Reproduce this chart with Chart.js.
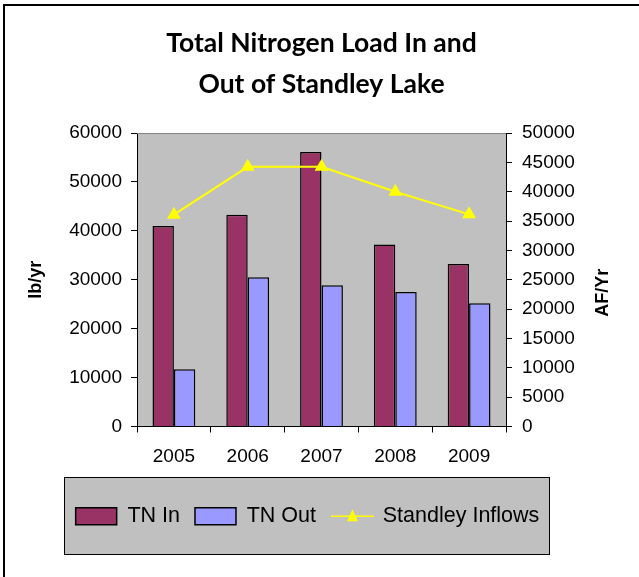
<!DOCTYPE html>
<html>
<head>
<meta charset="utf-8">
<script src="https://cdn.jsdelivr.net/npm/chart.js@4.4.1/dist/chart.umd.min.js"></script>
<style>
  html, body { margin: 0; padding: 0; background: #fff; }
  #wrap { width: 639px; height: 577px; position: relative; }
</style>
</head>
<body>
<div id="wrap"><canvas id="nitroChart" width="639" height="577"></canvas></div>
<script>
const years = ['2005', '2006', '2007', '2008', '2009'];
const tnIn = [41000, 43300, 56100, 37200, 33200];
const tnOut = [11700, 30500, 28900, 27500, 25200];
const inflows = [36100, 44250, 44250, 40000, 36150];

const leftTicks = [0, 10000, 20000, 30000, 40000, 50000, 60000];
const rightTicks = [0, 5000, 10000, 15000, 20000, 25000, 30000, 35000, 40000, 45000, 50000];

const axisFont = { family: 'Liberation Sans, Arial, sans-serif', size: 19 };

// frame, gray plot area, legend box, custom swatch and right title
const decorations = {
  id: 'decorations',
  beforeDraw: (chart) => {
    const { ctx, chartArea } = chart;
    ctx.save();
    ctx.fillStyle = '#C0C0C0';
    ctx.fillRect(chartArea.left, chartArea.top, chartArea.right - chartArea.left, chartArea.bottom - chartArea.top);

    const boxes = chart.legend.legendHitBoxes;
    if (boxes && boxes.length) {
      const first = boxes[0];
      const last = boxes[boxes.length - 1];
      const cy = first.top + first.height / 2;
      const x0 = Math.round(first.left - 12) + 0.5;
      const x1 = Math.round(last.left + last.width + 10) + 0.5;
      const y0 = Math.round(cy - 39) + 0.5;
      const y1 = Math.round(cy + 38) + 0.5;
      ctx.fillStyle = '#C0C0C0';
      ctx.fillRect(x0, y0, x1 - x0, y1 - y0);
      ctx.strokeStyle = '#000';
      ctx.lineWidth = 1;
      ctx.strokeRect(x0, y0, x1 - x0, y1 - y0);
    }

    ctx.strokeStyle = '#000';
    ctx.lineWidth = 2;
    ctx.beginPath();
    ctx.moveTo(4, 577);
    ctx.lineTo(4, 5);
    ctx.lineTo(639, 5);
    ctx.stroke();
    ctx.restore();
  },
  afterDraw: (chart) => {
    const { ctx, chartArea } = chart;
    ctx.save();
    ctx.strokeStyle = '#808080';
    ctx.lineWidth = 1;
    ctx.beginPath();
    ctx.moveTo(chartArea.left, chartArea.top + 0.5);
    ctx.lineTo(chartArea.right, chartArea.top + 0.5);
    ctx.stroke();

    const boxes = chart.legend.legendHitBoxes;
    const hb = boxes && boxes[2];
    if (hb) {
      const cy = hb.top + hb.height / 2;
      ctx.strokeStyle = '#FFFF00';
      ctx.lineWidth = 1.5;
      ctx.beginPath();
      ctx.moveTo(hb.left, cy);
      ctx.lineTo(hb.left + 43, cy);
      ctx.stroke();
      ctx.fillStyle = '#FFFF00';
      ctx.beginPath();
      ctx.moveTo(hb.left + 21.5, cy - 7);
      ctx.lineTo(hb.left + 27, cy + 5);
      ctx.lineTo(hb.left + 16, cy + 5);
      ctx.closePath();
      ctx.fill();
    }

    ctx.fillStyle = '#000';
    ctx.font = 'bold 18px Liberation Sans, Arial, sans-serif';
    ctx.textAlign = 'center';
    ctx.textBaseline = 'middle';
    ctx.translate(603, (chartArea.top + chartArea.bottom) / 2 + 13);
    ctx.rotate(-Math.PI / 2);
    ctx.fillText('AF/Yr', 0, 0);
    ctx.restore();
  }
};

new Chart(document.getElementById('nitroChart'), {
  data: {
    labels: years,
    datasets: [
      {
        type: 'line',
        label: 'Standley Inflows',
        data: inflows,
        yAxisID: 'y1',
        borderColor: '#FFFF00',
        backgroundColor: '#FFFF00',
        borderWidth: 2,
        pointStyle: 'triangle',
        pointRadius: 6,
        pointBackgroundColor: '#FFFF00',
        pointBorderColor: '#FFFF00',
        tension: 0,
        order: 0
      },
      {
        type: 'bar',
        label: 'TN In',
        data: tnIn,
        yAxisID: 'y',
        backgroundColor: '#993366',
        borderColor: '#000',
        borderWidth: 1.5,
        order: 1
      },
      {
        type: 'bar',
        label: 'TN Out',
        data: tnOut,
        yAxisID: 'y',
        backgroundColor: '#9999FF',
        borderColor: '#000',
        borderWidth: 1.5,
        order: 1
      }
    ]
  },
  options: {
    responsive: false,
    animation: false,
    devicePixelRatio: 1,
    layout: { padding: { left: 0, right: 24, top: 0, bottom: 40 } },
    datasets: { bar: { categoryPercentage: 0.58, barPercentage: 1 } },
    scales: {
      x: {
        type: 'category',
        offset: true,
        afterFit: (axis) => { axis.height = 64; },
        grid: { offset: true, drawOnChartArea: false, tickLength: 6, color: '#000' },
        border: { color: '#000' },
        ticks: { font: axisFont, color: '#000', padding: 13 }
      },
      y: {
        position: 'left',
        min: 0,
        max: 60000,
        afterFit: (axis) => { axis.width = 137; },
        afterBuildTicks: (axis) => { axis.ticks = leftTicks.map(v => ({ value: v })); },
        ticks: { font: axisFont, color: '#000', padding: 9, callback: (v) => String(v) },
        grid: { drawOnChartArea: false, tickLength: 6, color: '#000' },
        border: { color: '#000' },
        title: {
          display: true,
          text: 'lb/yr',
          color: '#000',
          font: { family: 'Liberation Sans, Arial, sans-serif', size: 18, weight: 'bold' },
          padding: { top: 25, bottom: 10 }
        }
      },
      y1: {
        position: 'right',
        min: 0,
        max: 50000,
        afterFit: (axis) => { axis.width = 109; },
        afterBuildTicks: (axis) => { axis.ticks = rightTicks.map(v => ({ value: v })); },
        ticks: { font: axisFont, color: '#000', padding: 10, callback: (v) => String(v) },
        grid: { drawOnChartArea: false, tickLength: 6, color: '#000' },
        border: { color: '#000' }
      }
    },
    plugins: {
      title: {
        display: true,
        fullSize: false,
        text: ['Total Nitrogen Load In and', 'Out of Standley Lake'],
        color: '#000',
        font: { family: 'Lato, sans-serif', size: 26.5, weight: 'bold', lineHeight: 1.55 },
        padding: { top: 22.5, bottom: 28.4 }
      },
      legend: {
        position: 'bottom',
        labels: {
          color: '#000',
          font: { family: 'Liberation Sans, Arial, sans-serif', size: 21.5 },
          boxWidth: 41,
          boxHeight: 17,
          padding: 15,
          sort: (a, b) => [1, 2, 0].indexOf(a.datasetIndex) - [1, 2, 0].indexOf(b.datasetIndex),
          generateLabels: (chart) => {
            const items = Chart.defaults.plugins.legend.labels.generateLabels(chart);
            items.forEach(it => {
              if (it.datasetIndex === 0) {
                it.fillStyle = 'rgba(0,0,0,0)';
                it.strokeStyle = 'rgba(0,0,0,0)';
                it.lineWidth = 0;
              }
            });
            return items;
          }
        }
      },
      tooltip: { enabled: false }
    }
  },
  plugins: [decorations]
});
</script>
</body>
</html>
